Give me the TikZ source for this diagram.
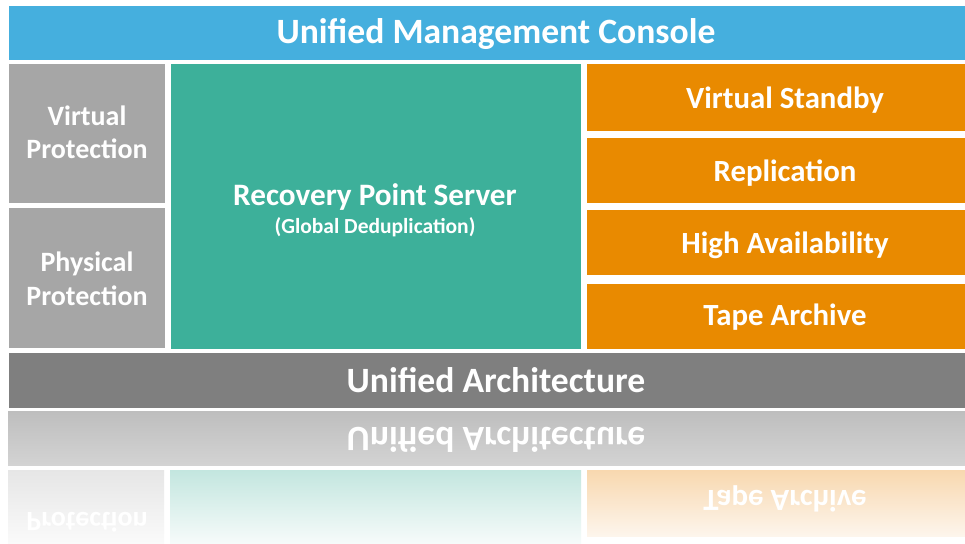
\documentclass[tikz,border=0pt]{standalone}
\usepackage{fontspec}
\setmainfont{Carlito}
\definecolor{cblue}{HTML}{45AFDE}
\definecolor{cgray}{HTML}{A6A6A6}
\definecolor{cgreen}{HTML}{3DB09A}
\definecolor{corange}{HTML}{E98A00}
\definecolor{cdark}{HTML}{7F7F7F}
\definecolor{rbartop}{HTML}{BEBEBE}
\definecolor{rbarbot}{HTML}{D3D3D3}
\definecolor{rgraytop}{HTML}{E6E6E6}
\definecolor{rgraybot}{HTML}{FAFAFA}
\definecolor{rgreentop}{HTML}{C3E6DF}
\definecolor{rgreenbot}{HTML}{F6FBFA}
\definecolor{rorangetop}{HTML}{F8D8AF}
\definecolor{rorangebot}{HTML}{FDF5EC}
\begin{document}
\begin{tikzpicture}[x=1pt,y=-1pt,
  box/.style={draw=none, inner sep=0pt, outer sep=0pt, anchor=north west},
  big/.style={text=white, inner sep=0pt, anchor=base, font=\bfseries\fontsize{35.6}{40}\selectfont},
  lbl/.style={text=white, inner sep=0pt, anchor=base, font=\bfseries\fontsize{30.8}{34}\selectfont},
  side/.style={text=white, inner sep=0pt, anchor=base, font=\bfseries\fontsize{28}{32}\selectfont},
  sub/.style={text=white, inner sep=0pt, anchor=base, font=\bfseries\fontsize{21.5}{24}\selectfont},
  flip/.style={yscale=-1}]
\useasboundingbox (0,0) rectangle (965,543);
\fill[white] (0,0) rectangle (965,543);
% top console bar
\node[box, fill=cblue, minimum width=956pt, minimum height=54pt] (umc) at (9,6) {};
\node[big] (umct) at (496,44) {Unified Management Console};
% left column
\node[box, fill=cgray, minimum width=156pt, minimum height=139pt] (vp) at (9,64) {};
\node[side] (vpt1) at (87,125) {Virtual};
\node[side] (vpt2) at (87,158) {Protection};
\node[box, fill=cgray, minimum width=156pt, minimum height=140pt] (pp) at (9,208) {};
\node[side] (ppt1) at (87,271) {Physical};
\node[side] (ppt2) at (87,305) {Protection};
% centre
\node[box, fill=cgreen, minimum width=410pt, minimum height=285pt] (rps) at (171,64) {};
\node[lbl, font=\bfseries\fontsize{31.2}{34}\selectfont] (rpst) at (375,205) {Recovery Point Server};
\node[sub] (rpss) at (375,233) {(Global Deduplication)};
% right column
\node[box, fill=corange, minimum width=378pt, minimum height=67pt] (vs) at (587,64) {};
\node[lbl] (vst) at (785,108) {Virtual Standby};
\node[box, fill=corange, minimum width=378pt, minimum height=65pt] (rep) at (587,138) {};
\node[lbl] (rept) at (785,181) {Replication};
\node[box, fill=corange, minimum width=378pt, minimum height=65pt] (ha) at (587,210) {};
\node[lbl] (hat) at (785,253) {High Availability};
\node[box, fill=corange, minimum width=378pt, minimum height=65pt] (ta) at (587,284) {};
\node[lbl] (tat) at (785,325) {Tape Archive};
% architecture bar
\node[box, fill=cdark, minimum width=956pt, minimum height=55pt] (ua) at (9,353) {};
\node[big] (uat) at (496,392) {Unified Architecture};
% reflection
\node[box, top color=rbartop, bottom color=rbarbot, minimum width=957pt, minimum height=54pt] (rua) at (8,411) {};
\node[big, flip] (ruat) at (496,427) {Unified Architecture};
\node[box, top color=rgraytop, bottom color=rgraybot, minimum width=156pt, minimum height=73pt] (rpp) at (8,470) {};
\node[side, flip] (rppt) at (87,512) {Protection};
\node[box, top color=rgreentop, bottom color=rgreenbot, minimum width=411pt, minimum height=73pt] (rrps) at (170,470) {};
\node[box, top color=rorangetop, bottom color=rorangebot, minimum width=378pt, minimum height=66pt] (rta) at (587,470) {};
\node[lbl, flip] (rtat) at (785,490) {Tape Archive};
\end{tikzpicture}
\end{document}
